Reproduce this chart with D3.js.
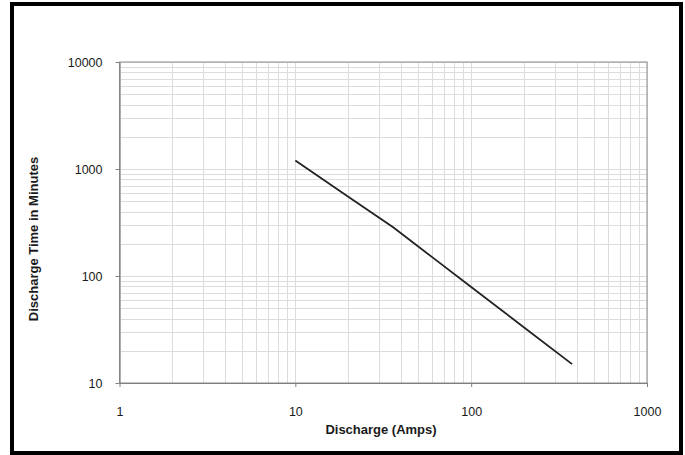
<!DOCTYPE html>
<html>
<head>
<meta charset="utf-8">
<script src="https://cdn.jsdelivr.net/npm/d3@7"></script>
<style>
  body { margin: 0; background: #fff; }
  svg text { font-family: "Liberation Sans", Arial, sans-serif; fill: #1a1a1a; }
</style>
</head>
<body>
<div id="container"></div>
<script>
// chart data
const amps = [10, 20, 36, 60, 100, 200, 375];
const minutes = [1200, 550, 285, 150, 79, 33, 15];
const xTicks = [1, 10, 100, 1000];
const yTicks = [10, 100, 1000, 10000];

const W = 685, H = 455;
const margin = { top: 62, right: 38, bottom: 72, left: 119.5 };

const svg = d3.select("#container")
  .append("svg")
  .attr("width", W)
  .attr("height", H);

// outer frame
svg.append("rect")
  .attr("x", 12).attr("y", 4)
  .attr("width", 669).attr("height", 449)
  .attr("fill", "none")
  .attr("stroke", "#000")
  .attr("stroke-width", 4);

const x = d3.scaleLog().domain([1, 1000]).range([margin.left, W - margin.right]);
const y = d3.scaleLog().domain([10, 10000]).range([H - margin.bottom, margin.top]);

// minor + major grid values: 1..9 per decade
const gridVals = (lo, hi) => {
  const out = [];
  for (let p = lo; p < hi; p *= 10) {
    for (let k = 1; k <= 9; k++) out.push(p * k);
  }
  out.push(hi);
  return out;
};

const grid = svg.append("g").attr("stroke", "#dcdcdc").attr("stroke-width", 1);
grid.selectAll(".vg")
  .data(gridVals(1, 1000))
  .join("line")
  .attr("x1", d => Math.round(x(d)) + 0.5).attr("x2", d => Math.round(x(d)) + 0.5)
  .attr("y1", y(10)).attr("y2", y(10000));
grid.selectAll(".hg")
  .data(gridVals(10, 10000))
  .join("line")
  .attr("y1", d => Math.round(y(d)) + 0.5).attr("y2", d => Math.round(y(d)) + 0.5)
  .attr("x1", x(1)).attr("x2", x(1000));

// plot area border
svg.append("rect")
  .attr("x", x(1)).attr("y", y(10000))
  .attr("width", x(1000) - x(1)).attr("height", y(10) - y(10000))
  .attr("fill", "none").attr("stroke", "#8c8c8c").attr("stroke-width", 1);

// axes
const xAxis = svg.append("g")
  .attr("transform", `translate(0,${y(10)})`)
  .call(d3.axisBottom(x).tickValues(xTicks).tickFormat(d3.format("d")).tickSize(4).tickSizeOuter(0).tickPadding(20));
const yAxis = svg.append("g")
  .attr("transform", `translate(${x(1)},0)`)
  .call(d3.axisLeft(y).tickValues(yTicks).tickFormat(d3.format("d")).tickSize(4).tickSizeOuter(0).tickPadding(13));

[xAxis, yAxis].forEach(g => {
  g.select(".domain").attr("stroke", "#808080");
  g.selectAll(".tick line").attr("stroke", "#808080");
  g.selectAll(".tick text").attr("font-size", 12.5).attr("fill", "#1a1a1a");
});

// the curve
svg.append("path")
  .datum(amps.map((a, i) => [a, minutes[i]]))
  .attr("fill", "none")
  .attr("stroke", "#222")
  .attr("stroke-width", 1.8)
  .attr("d", d3.line().x(d => x(d[0])).y(d => y(d[1])));

// axis titles
svg.append("text")
  .attr("x", 381).attr("y", 434)
  .attr("text-anchor", "middle")
  .attr("font-size", 13).attr("font-weight", "bold")
  .text("Discharge (Amps)");

svg.append("text")
  .attr("transform", "translate(38,239) rotate(-90)")
  .attr("text-anchor", "middle")
  .attr("font-size", 13).attr("font-weight", "bold")
  .text("Discharge Time in Minutes");
</script>
</body>
</html>
